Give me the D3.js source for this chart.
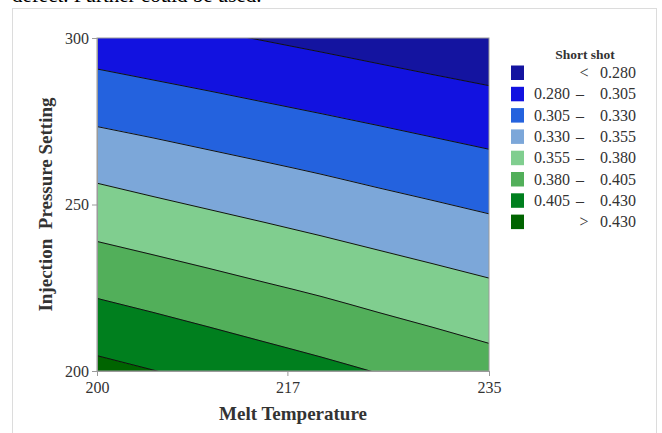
<!DOCTYPE html>
<html><head><meta charset="utf-8">
<script src="https://cdn.jsdelivr.net/npm/d3@7"></script>
<style>
html,body{margin:0;padding:0;background:#fff;overflow:hidden;}
svg{display:block;}
</style></head>
<body>
<svg id="chart" width="662" height="433"></svg>
<script>
// ---- data ----
const temperatures = [200, 205, 210, 215, 220, 225, 230, 235];
// injection pressure of each contour line at the temperatures above
const line0280 = [308.8, 305.5, 302.4, 299.1, 295.8, 292.4, 289.0, 285.7];
const line0305 = [290.7, 287.4, 284.1, 280.7, 277.3, 273.8, 270.2, 266.6];
const line0330 = [273.4, 270.0, 266.4, 262.8, 259.1, 255.1, 251.2, 247.2];
const line0355 = [256.4, 252.4, 248.5, 244.6, 240.6, 236.4, 232.2, 227.9];
const line0380 = [238.9, 234.9, 230.8, 226.6, 222.4, 217.7, 213.1, 208.3];
const line0405 = [221.8, 217.6, 213.2, 208.7, 204.2, 199.4, 194.6, 189.7];
const line0430 = [204.6, 200.3, 195.9, 191.5, 186.9, 182.3, 177.5, 172.6];
const contourLevels = [0.280, 0.305, 0.330, 0.355, 0.380, 0.405, 0.430];
const contourLines = [line0280, line0305, line0330, line0355, line0380, line0405, line0430];
const bandColors = ["#1414A0", "#1212E0", "#2462DE", "#7CA7D9", "#80CE8F", "#52AF5A", "#007F1E", "#006400"];
const xTicks = [200, 217, 235];
const yTicks = [200, 250, 300];
const xTitle = "Melt Temperature";
const yTitle = "Injection\u00A0\u00A0Pressure Setting";
const legendTitle = "Short shot";

// ---- layout ----
const svg = d3.select("#chart");
const serif = "'Liberation Serif','Times New Roman',serif";
const x = d3.scaleLinear().domain([200, 235]).range([97, 489]);
const y = d3.scaleLinear().domain([200, 300]).range([371, 38]);

// cut-off text above the frame (only its lower edge shows in the reference)
svg.append("text").attr("x", 12).attr("y", 2).attr("font-family", serif)
  .attr("font-size", 21).attr("fill", "#000").text("defect. Further could be used.");

// outer frame
svg.append("rect").attr("x", 12.5).attr("y", 8.5).attr("width", 644).attr("height", 500)
  .attr("fill", "#fff").attr("stroke", "#dcdcdc");

svg.append("clipPath").attr("id", "plotclip").append("rect")
  .attr("x", x(200)).attr("y", y(300)).attr("width", x(235) - x(200)).attr("height", y(200) - y(300));

const g = svg.append("g").attr("clip-path", "url(#plotclip)");
const curve = d3.curveMonotoneX;

// bands: band i lies between contourLines[i-1] (upper) and contourLines[i] (lower)
const topEdge = temperatures.map(() => 320);
const bottomEdge = temperatures.map(() => 160);
const bounds = [topEdge, ...contourLines, bottomEdge];
bandColors.forEach((c, i) => {
  const upper = bounds[i], lower = bounds[i + 1];
  const area = d3.area().curve(curve)
    .x((d, k) => x(temperatures[k]))
    .y0((d, k) => y(lower[k]))
    .y1((d, k) => y(upper[k]));
  g.append("path").attr("d", area(temperatures)).attr("fill", c).attr("stroke", c).attr("stroke-width", 0.6);
});
contourLines.forEach(ln => {
  const line = d3.line().curve(curve).x((d, k) => x(temperatures[k])).y((d, k) => y(ln[k]));
  g.append("path").attr("d", line(temperatures)).attr("fill", "none").attr("stroke", "#111").attr("stroke-width", 1);
});

// plot border
svg.append("rect").attr("x", x(200)).attr("y", y(300)).attr("width", x(235) - x(200)).attr("height", y(200) - y(300))
  .attr("fill", "none").attr("stroke", "#9a9a9a").attr("stroke-width", 1);

// axes
const xAxis = svg.append("g").attr("transform", `translate(0,${y(200)})`)
  .call(d3.axisBottom(x).tickValues(xTicks).tickSize(5).tickPadding(4).tickFormat(d3.format("d")));
const yAxis = svg.append("g").attr("transform", `translate(${x(200)},0)`)
  .call(d3.axisLeft(y).tickValues(yTicks).tickSize(5).tickPadding(3).tickFormat(d3.format("d")));
[xAxis, yAxis].forEach(a => {
  a.select(".domain").attr("stroke", "#9a9a9a");
  a.selectAll(".tick line").attr("stroke", "#9a9a9a");
  a.selectAll("text").attr("font-family", serif).attr("font-size", 16).attr("fill", "#333");
});
xAxis.selectAll("text").attr("dy", "0.8em");

// axis titles
svg.append("text").attr("x", (x(200) + x(235)) / 2).attr("y", 420).attr("text-anchor", "middle")
  .attr("font-family", serif).attr("font-weight", "bold").attr("font-size", 19).attr("fill", "#333").text(xTitle);
svg.append("text").attr("transform", `translate(52,${(y(200) + y(300)) / 2}) rotate(-90)`)
  .attr("text-anchor", "middle").attr("font-family", serif).attr("font-weight", "bold")
  .attr("font-size", 19).attr("fill", "#333").text(yTitle);

// legend
const fmt = d3.format(".3f");
const lg = svg.append("g");
lg.append("text").attr("x", 585).attr("y", 59).attr("text-anchor", "middle").attr("font-family", serif)
  .attr("font-weight", "bold").attr("font-size", 13.5).attr("fill", "#333").text(legendTitle);
bandColors.forEach((c, i) => {
  const top = 65.5 + i * 21.3;
  lg.append("rect").attr("x", 511).attr("y", top).attr("width", 13).attr("height", 14.5).attr("fill", c);
  const base = top + 12.5;
  const t = (xx, anchor, s) => lg.append("text").attr("x", xx).attr("y", base).attr("text-anchor", anchor)
    .attr("font-family", serif).attr("font-size", 16).attr("fill", "#333").text(s);
  if (i === 0) { t(584, "middle", "<"); t(636, "end", fmt(contourLevels[0])); }
  else if (i === bandColors.length - 1) { t(584, "middle", ">"); t(636, "end", fmt(contourLevels[contourLevels.length - 1])); }
  else { t(570, "end", fmt(contourLevels[i - 1])); t(580, "middle", "\u2013"); t(636, "end", fmt(contourLevels[i])); }
});
</script>
</body></html>
